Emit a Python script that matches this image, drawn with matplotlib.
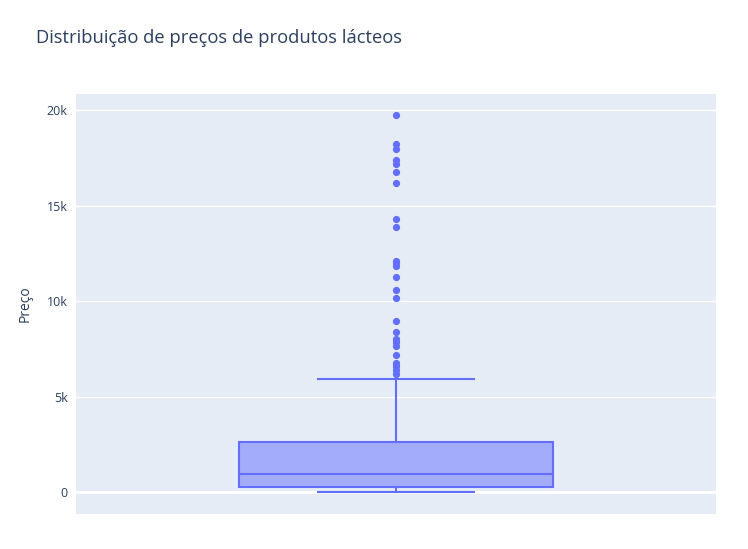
import matplotlib
matplotlib.use("Agg")
import matplotlib.pyplot as plt
from matplotlib.ticker import FuncFormatter

plt.rcParams['font.family'] = ['Open Sans', 'DejaVu Sans']

# box statistics (price values)
q1 = 250
median = 960
q3 = 2600
lower_fence = 0
upper_fence = 5900
outliers = [19750, 18200, 17950, 17380, 17200, 16750, 16160, 14280, 13870,
            12100, 12000, 11850, 11240, 10580, 10140, 8950, 8390, 8000, 7870,
            7640, 7170, 6770, 6600, 6390, 6180]

yticks = [0, 5000, 10000, 15000, 20000]

line_col = '#636efa'
text_col = '#2a3f5f'

fig = plt.figure(figsize=(7.48, 5.49), dpi=100)
ax = fig.add_axes([76/748, 35/549, 640/748, 420/549])
ax.set_facecolor('#E5ECF6')

stats = [dict(med=median, q1=q1, q3=q3, whislo=lower_fence, whishi=upper_fence,
              fliers=outliers)]
ax.bxp(stats, positions=[0], widths=0.49, patch_artist=True,
       boxprops=dict(facecolor=(99/255, 110/255, 250/255, 0.5), edgecolor=line_col, linewidth=1.5),
       medianprops=dict(color=line_col, linewidth=1.5),
       whiskerprops=dict(color=line_col, linewidth=1.5),
       capprops=dict(color=line_col, linewidth=1.5),
       capwidths=0.245,
       flierprops=dict(marker='o', markerfacecolor=line_col, markeredgecolor=line_col,
                       markersize=4.2, linestyle='none'),
       zorder=3)

ax.set_xlim(-0.5, 0.5)
ax.set_ylim(-1150, 20840)
ax.set_xticks([])
ax.set_yticks(yticks)
ax.yaxis.set_major_formatter(FuncFormatter(lambda v, p: '0' if v == 0 else f'{int(v/1000)}k'))
ax.grid(axis='y', color='white', linewidth=1, zorder=0)
ax.axhline(0, color='white', linewidth=2, zorder=1)
ax.set_axisbelow(True)
for s in ax.spines.values():
    s.set_visible(False)
ax.tick_params(axis='y', length=0, pad=6, labelsize=9, labelcolor=text_col)

ax.set_ylabel('Preço', fontsize=10, color=text_col, labelpad=10)
fig.text(36/748, 1 - 38/549, 'Distribuição de preços de produtos lácteos',
         fontsize=13.2, color=text_col, ha='left', va='center')

fig.savefig('out.png', dpi=100)
